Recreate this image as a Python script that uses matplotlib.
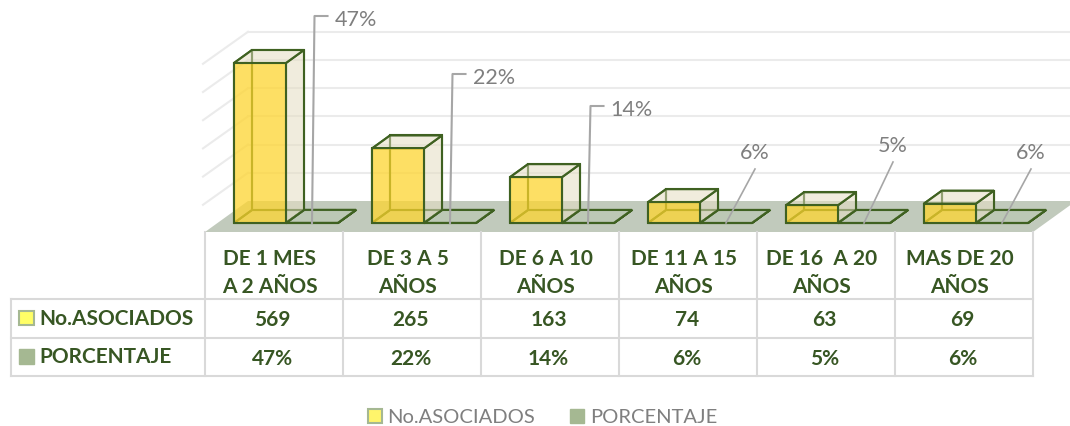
"""
3D-looking column chart with a data table below it, drawn on one pixel-sized axes.
"""

from matplotlib import pyplot as plt
from matplotlib.colors import to_rgba
from matplotlib.patches import Polygon, Rectangle

CATEGORIES = [
    "DE 1 MES\nA 2 AÑOS",
    "DE 3 A 5\nAÑOS",
    "DE 6 A 10\nAÑOS",
    "DE 11 A 15\nAÑOS",
    "DE 16  A 20\nAÑOS",
    "MAS DE 20\nAÑOS",
]
ASOCIADOS = [569, 265, 163, 74, 63, 69]
PORCENTAJE = [0.47, 0.22, 0.14, 0.06, 0.05, 0.06]
SERIES_NAMES = ["No.ASOCIADOS", "PORCENTAJE"]

# layout, in pixels of the 1070x427 picture
TABLE_LEFT = 205
CELL_W = 138
FLOOR_FRONT = 233
FLOOR_BACK = 202
BASE_Y = 224
BAR_W = 52
BAR_PAD = 29
DEPTH_X = 18
DEPTH_Y = 13
PX_PER_UNIT = 160 / 569
WALL_DX = 43
WALL_STEP = 28.2

EDGE = "#3F6121"
TEXT = "#375623"
GRAY_TEXT = "#7F7F7F"
LEADER = "#A6A6A6"
GRID = "#EBEBEB"
TABLE_LINE = "#D9D9D9"
FLOOR = "#C1CABC"

plt.rcParams["font.family"] = ["Lato", "DejaVu Sans"]


def face(ax, points, color, alpha, zorder):
    # fill is see-through, the outline stays solid
    ax.add_patch(
        Polygon(points, closed=True, fc=to_rgba(color, alpha), ec=EDGE, lw=1.5, zorder=zorder)
    )


def draw_box(ax, x, height, front, side, back, alphas):
    """
    One column: back faces first, then the see-through front faces.
    """
    top = BASE_Y - height
    x1 = x + BAR_W
    dx, dy = DEPTH_X, DEPTH_Y
    back_face = [(x + dx, top - dy), (x1 + dx, top - dy), (x1 + dx, BASE_Y - dy), (x + dx, BASE_Y - dy)]
    bottom_face = [(x, BASE_Y), (x1, BASE_Y), (x1 + dx, BASE_Y - dy), (x + dx, BASE_Y - dy)]
    left_face = [(x, top), (x + dx, top - dy), (x + dx, BASE_Y - dy), (x, BASE_Y)]
    side_face = [(x1, top), (x1 + dx, top - dy), (x1 + dx, BASE_Y - dy), (x1, BASE_Y)]
    top_face = [(x, top), (x1, top), (x1 + dx, top - dy), (x + dx, top - dy)]
    front_face = [(x, top), (x1, top), (x1, BASE_Y), (x, BASE_Y)]
    for points in [back_face, bottom_face, left_face]:
        face(ax, points, back, alphas[0], 3)
    face(ax, side_face, side, alphas[1], 4)
    face(ax, top_face, side, alphas[1], 4)
    face(ax, front_face, front, alphas[2], 5)


def draw_wall(ax, table_right):
    """
    Back wall gridlines and the grey floor.
    """
    back_left = TABLE_LEFT + WALL_DX
    for i in range(1, 7):
        y = FLOOR_BACK - i * WALL_STEP
        ax.plot([TABLE_LEFT - 2, back_left], [y + 32, y], color=GRID, lw=1.5, zorder=1)
        ax.plot([back_left, 1070], [y, y], color=GRID, lw=1.5, zorder=1)
    floor = [
        (TABLE_LEFT, FLOOR_FRONT),
        (table_right, FLOOR_FRONT),
        (table_right + WALL_DX, FLOOR_BACK),
        (back_left, FLOOR_BACK),
    ]
    ax.add_patch(Polygon(floor, closed=True, fc=FLOOR, ec="none", zorder=2))


def draw_table(ax, table_right):
    """
    Data table: category row, then one row for each series.
    """
    row_top, row_mid, row_bottom = 300, 338.5, 376.5
    for y in [row_top, row_mid, row_bottom]:
        ax.plot([11, table_right], [y, y], color=TABLE_LINE, lw=1.5, zorder=2)
    ax.plot([11, 11], [row_top, row_bottom], color=TABLE_LINE, lw=1.5, zorder=2)
    for i in range(len(CATEGORIES) + 1):
        x = TABLE_LEFT + i * CELL_W
        ax.plot([x, x], [FLOOR_FRONT, row_bottom], color=TABLE_LINE, lw=1.5, zorder=2)

    bold = {"ha": "center", "va": "center", "fontsize": 15, "fontweight": "bold", "color": TEXT}
    for i, name in enumerate(CATEGORIES):
        cat_x = TABLE_LEFT + (i + 0.47) * CELL_W
        val_x = TABLE_LEFT + (i + 0.49) * CELL_W
        first, second = name.split("\n")
        ax.text(cat_x, 259, first, **bold)
        ax.text(cat_x, 287, second, **bold)
        ax.text(val_x, 320, str(ASOCIADOS[i]), **bold)
        ax.text(val_x, 359, f"{PORCENTAJE[i]:.0%}", **bold)

    ax.add_patch(Rectangle((19, 312), 15, 14, fc="#FFFF66", ec="#A5B892", lw=1.5))
    ax.add_patch(Rectangle((19, 350), 15, 15, fc="#A5B892", ec="#A5B892", lw=1))
    bold["ha"] = "left"
    ax.text(39, 319, SERIES_NAMES[0], **bold)
    ax.text(39, 357, SERIES_NAMES[1], **bold)


def draw_labels(ax, x, value, i):
    """
    Leader line and percent label of the flat second column.
    """
    # the first three use an elbow, the small ones a slanted line
    start = (x + 26, BASE_Y)
    label = f"{value:.0%}"
    if i < 3:
        tops = [17, 75, 107]
        elbow = start[0] + 2.5
        ax.plot([start[0], elbow, elbow + 13], [start[1], tops[i], tops[i]], color=LEADER, lw=1.5, zorder=7)
        ax.text(elbow + 20, tops[i] + 2.5, label, ha="left", va="center", fontsize=15.5, color=GRAY_TEXT, zorder=7)
    else:
        tops = [170, 163, 170]
        ax.plot([start[0], start[0] + 29], [start[1], tops[i - 3]], color=LEADER, lw=1.2, zorder=7)
        ax.text(start[0] + 29, tops[i - 3] - 17, label, ha="center", va="center", fontsize=15.5, color=GRAY_TEXT, zorder=7)


def main() -> None:
    fig = plt.figure(figsize=(10.7, 4.27), dpi=100)
    ax = fig.add_axes([0, 0, 1, 1])
    ax.set_xlim(0, 1070)
    ax.set_ylim(427, 0)
    ax.axis("off")

    table_right = TABLE_LEFT + len(CATEGORIES) * CELL_W
    draw_wall(ax, table_right)
    draw_table(ax, table_right)

    for i, (count, share) in enumerate(zip(ASOCIADOS, PORCENTAJE)):
        x = TABLE_LEFT + i * CELL_W + BAR_PAD
        draw_box(ax, x + BAR_W, share * PX_PER_UNIT, "#BCC8B4", "#BCC8B4", "#BCC8B4", (0.6, 0.6, 0.6))
        draw_box(ax, x, count * PX_PER_UNIT, "#FFD52B", "#E6DFC4", "#E6DFC4", (0.12, 0.5, 0.72))
        draw_labels(ax, x + BAR_W, share, i)

    # legend below the table
    ax.add_patch(Rectangle((368, 410), 14, 14, fc="#FFF56B", ec="#A5B892", lw=1.5))
    ax.text(387, 417.5, SERIES_NAMES[0], ha="left", va="center", fontsize=14.5, color=GRAY_TEXT)
    ax.add_patch(Rectangle((570, 410), 14, 14, fc="#A5B892", ec="#A5B892", lw=1))
    ax.text(590, 417.5, SERIES_NAMES[1], ha="left", va="center", fontsize=14.5, color=GRAY_TEXT)

    fig.savefig("out.png", dpi=100, facecolor="white")


if __name__ == "__main__":
    main()
